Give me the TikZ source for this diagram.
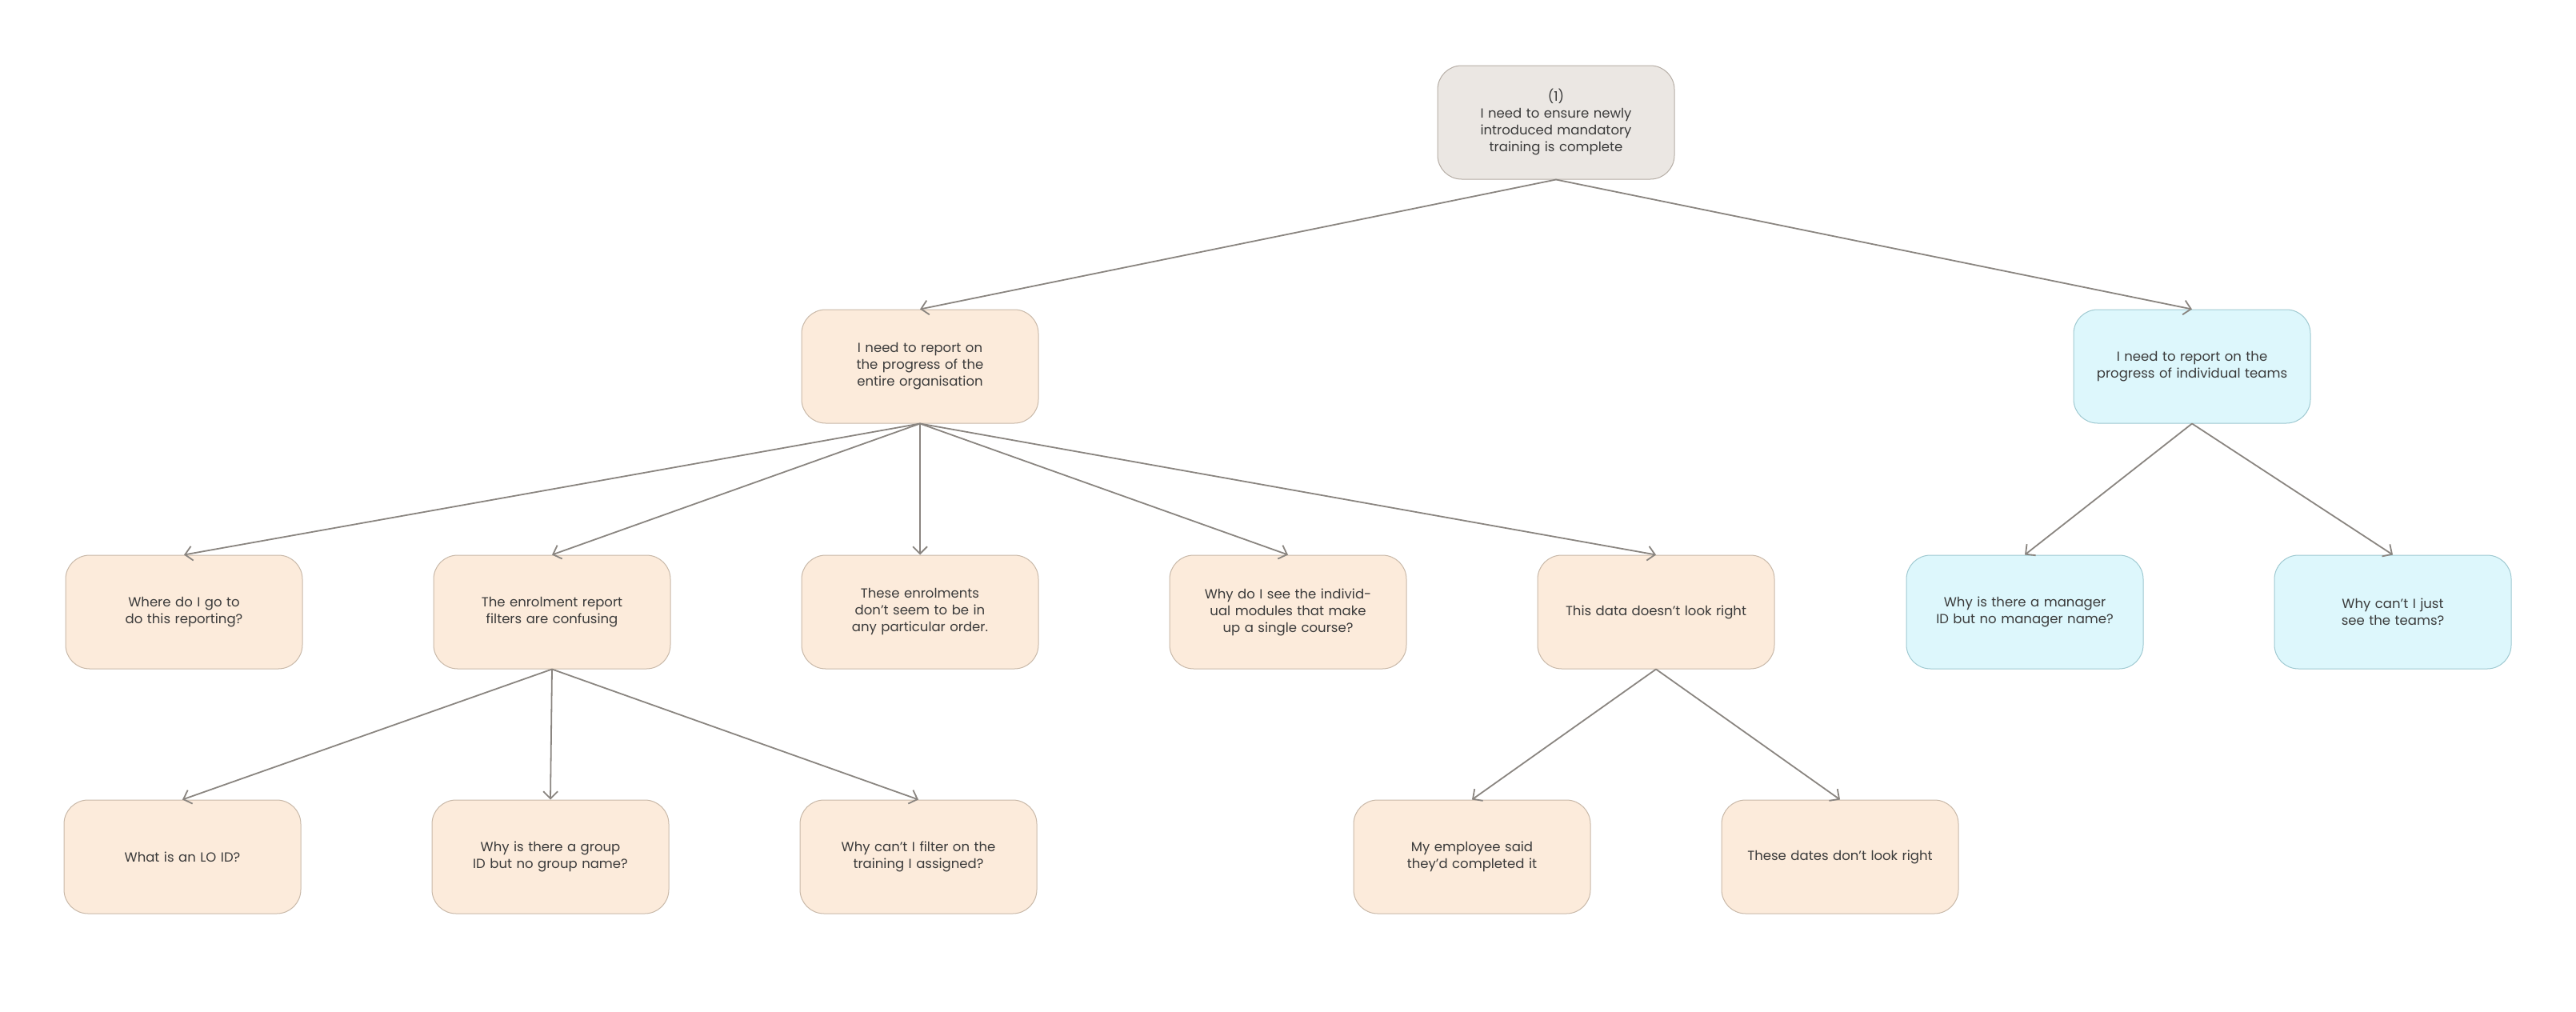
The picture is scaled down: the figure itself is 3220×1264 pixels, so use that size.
\documentclass[tikz,border=0pt]{standalone}
\usepackage{fontspec}
\setmainfont{Poppins}
\usetikzlibrary{arrows.meta}
\definecolor{rootf}{HTML}{EBE7E3}\definecolor{rootd}{HTML}{B5ADA5}
\definecolor{orf}{HTML}{FCEBDB}\definecolor{ord}{HTML}{C8B8A8}
\definecolor{blf}{HTML}{DDF7FC}\definecolor{bld}{HTML}{9FC9D1}
\definecolor{edge}{HTML}{8A8580}\definecolor{txt}{HTML}{3A3A3A}
\begin{document}
\begin{tikzpicture}[x=1pt,y=-1pt,
 box/.style={rectangle,rounded corners=30pt,minimum width=296pt,minimum height=142pt,text width=240pt,align=center,font=\fontsize{16.5}{21}\selectfont,text=txt,line width=1pt},
 rt/.style={box,fill=rootf,draw=rootd},
 og/.style={box,fill=orf,draw=ord},
 bl/.style={box,fill=blf,draw=bld},
 ar/.style={draw=edge,line width=1.8pt,-{Straight Barb[length=9pt,width=18pt,line width=1.8pt]}}]
\useasboundingbox (0,0) rectangle (3220,1264);
\node[rt] (r) at (1945,153) {(1)\\I need to ensure newly introduced mandatory training is complete};
\node[og] (o) at (1150,458) {I need to report on the progress of the entire organisation};
\node[bl] (t) at (2740,458) {I need to report on the progress of individual teams};
\node[og] (a) at (230,765) {Where do I go to do this reporting?};
\node[og] (b) at (690,765) {The enrolment report filters are confusing};
\node[og] (c) at (1150,765) {These enrolments don’t seem to be in any particular order.};
\node[og] (d) at (1610,765) {Why do I see the individual modules that make up a single course?};
\node[og] (e) at (2070,765) {This data doesn’t look right};
\node[bl] (f) at (2531,765) {Why is there a manager ID but no manager name?};
\node[bl] (g) at (2991,765) {Why can’t I just see the teams?};
\node[og] (b1) at (228,1071) {What is an LO ID?};
\node[og] (b2) at (688,1071) {Why is there a group ID but no group name?};
\node[og] (b3) at (1148,1071) {Why can’t I filter on the training I assigned?};
\node[og] (e1) at (1840,1071) {My employee said they’d completed it};
\node[og] (e2) at (2300,1071) {These dates don’t look right};
\foreach \p/\c in {r/o,r/t,o/a,o/b,o/c,o/d,o/e,t/f,t/g,b/b1,b/b2,b/b3,e/e1,e/e2}
 \draw[ar] (\p.south) -- (\c.north);
\end{tikzpicture}
\end{document}
